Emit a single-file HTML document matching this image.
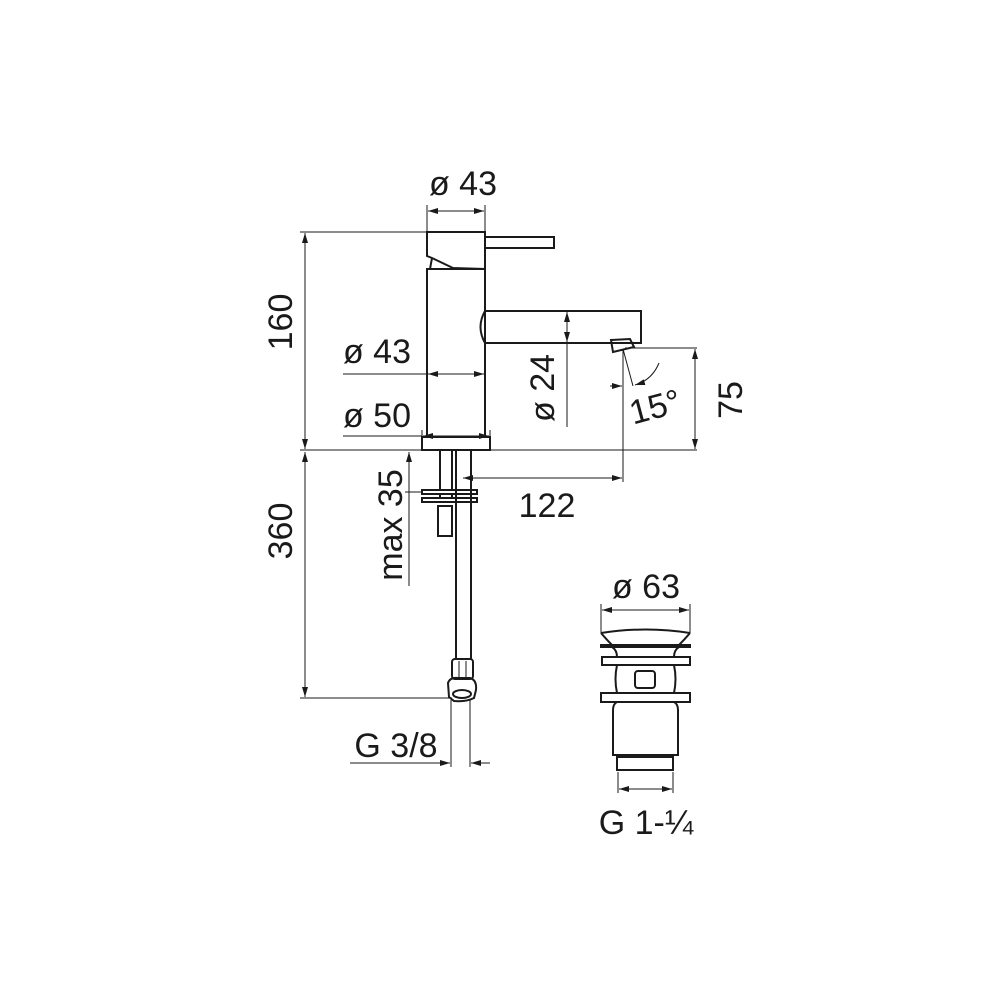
<!DOCTYPE html>
<html><head><meta charset="utf-8"><style>
html,body{margin:0;padding:0;background:#fff;}
svg{display:block;}
text{font-family:"Liberation Sans",sans-serif;fill:#1a1a1a;}
</style></head><body>
<svg width="1000" height="1000" viewBox="0 0 1000 1000" xmlns="http://www.w3.org/2000/svg">
<defs>
<marker id="a" viewBox="0 0 10 6" refX="10" refY="3" markerWidth="10" markerHeight="6" markerUnits="userSpaceOnUse" orient="auto-start-reverse">
<path d="M0,0 L10,3 L0,6 z" fill="#1a1a1a"/></marker>
</defs>
<g fill="none" stroke="#1a1a1a" stroke-width="1">
<line x1="427" y1="205" x2="427" y2="232"/><line x1="485" y1="205" x2="485" y2="232"/>
<line x1="428" y1="211" x2="484" y2="211" marker-start="url(#a)" marker-end="url(#a)"/>
<line x1="300" y1="232" x2="427" y2="232"/>
<line x1="305" y1="233" x2="305" y2="449" marker-start="url(#a)" marker-end="url(#a)"/>
<line x1="300" y1="450" x2="697" y2="450"/>
<line x1="305" y1="452" x2="305" y2="697" marker-start="url(#a)" marker-end="url(#a)"/>
<line x1="300" y1="698" x2="452" y2="698"/>
<g stroke-width="2">
<path d="M427,232 L485,232 L485,269 L453,268 L432,258 L427,256 Z"/>
<path d="M432,258 L430,269"/>
<rect x="485" y="237" width="69" height="11"/>
<path d="M485,269 L427,269 L427,437 L485,437 L485,269"/>
<rect x="422" y="437" width="68" height="13"/>
<path d="M485,311 L641,311 L641,343 L485,343"/>
<path d="M485,311 Q476,327 485,343"/>
<path d="M611,340 L630,339 L634,347 L613,352 Z"/>
<line x1="440" y1="451" x2="440" y2="490"/>
<line x1="452" y1="451" x2="452" y2="490"/>
<line x1="456" y1="451" x2="456" y2="660"/>
<line x1="471" y1="451" x2="471" y2="660"/>
<rect x="422" y="490" width="55" height="4"/>
<rect x="422" y="498" width="55" height="4"/>
<rect x="438" y="506" width="14" height="30"/>
<line x1="440" y1="494" x2="440" y2="498"/><line x1="452" y1="494" x2="452" y2="498"/>
<rect x="452" y="659" width="21" height="20" rx="3"/>
<path d="M448,683 Q450,677 458,678 L470,678 Q477,680 476,690 L474,698 Q466,702 454,701 L449,697 Z"/>
<ellipse cx="462" cy="694" rx="9" ry="4"/>
</g>
<line x1="459" y1="661" x2="459" y2="678"/><line x1="466" y1="661" x2="466" y2="678"/>
<line x1="409" y1="452" x2="409" y2="490" marker-start="url(#a)"/>
<line x1="409" y1="490" x2="409" y2="586"/>
<line x1="405" y1="492" x2="422" y2="492"/>
<line x1="343" y1="374" x2="427" y2="374"/>
<line x1="428" y1="374" x2="484" y2="374" marker-start="url(#a)" marker-end="url(#a)"/>
<line x1="343" y1="436" x2="422" y2="436"/>
<line x1="423" y1="436" x2="489" y2="436" marker-start="url(#a)" marker-end="url(#a)"/>
<line x1="422" y1="430" x2="422" y2="437"/><line x1="490" y1="430" x2="490" y2="437"/>
<line x1="567" y1="312" x2="567" y2="342" marker-start="url(#a)" marker-end="url(#a)"/>
<line x1="567" y1="342" x2="567" y2="427"/>
<line x1="625" y1="348" x2="697" y2="348"/>
<line x1="695" y1="349" x2="695" y2="449" marker-start="url(#a)" marker-end="url(#a)"/>
<line x1="623" y1="349" x2="623" y2="482"/>
<line x1="623" y1="349" x2="633" y2="386"/>
<path d="M659,363 Q652,380 635,385" marker-end="url(#a)"/>
<path d="M610,386 L622,386" marker-end="url(#a)"/>
<line x1="463" y1="478" x2="622" y2="478" marker-start="url(#a)" marker-end="url(#a)"/>
<line x1="451" y1="700" x2="451" y2="767"/><line x1="470" y1="700" x2="470" y2="767"/>
<line x1="350" y1="763" x2="450" y2="763" marker-end="url(#a)"/>
<line x1="490" y1="763" x2="471" y2="763" marker-end="url(#a)"/>
<line x1="601" y1="604" x2="601" y2="633"/><line x1="690" y1="604" x2="690" y2="633"/>
<line x1="602" y1="610" x2="689" y2="610" marker-start="url(#a)" marker-end="url(#a)"/>
<g stroke-width="2">
<path d="M601,633 Q646,626 690,633"/>
<path d="M601,633 Q607,640 612,645 M690,633 Q684,640 679,645"/>
<rect x="601" y="645" width="89" height="2"/>
<path d="M612,647 Q617,650 617,657 M679,647 Q674,650 674,657"/>
<rect x="602" y="657" width="88" height="8"/>
<path d="M617,665 Q614,679 617,693 M674,665 Q677,679 674,693"/>
<rect x="635" y="671" width="20" height="17" rx="3"/>
<rect x="601" y="693" width="89" height="9"/>
<path d="M617,702 Q613,704 613,710 L613,755 L678,755 L678,710 Q678,704 674,702"/>
<rect x="617" y="757" width="56" height="13"/>
</g>
<line x1="618" y1="772" x2="618" y2="793"/><line x1="673" y1="772" x2="673" y2="793"/>
<line x1="619" y1="789" x2="672" y2="789" marker-start="url(#a)" marker-end="url(#a)"/>
</g>
<g font-size="34">
<text x="463" y="195" text-anchor="middle">ø 43</text>
<text x="377" y="363" text-anchor="middle">ø 43</text>
<text x="377" y="427" text-anchor="middle">ø 50</text>
<text x="547" y="517" text-anchor="middle">122</text>
<text x="396" y="757" text-anchor="middle">G 3/8</text>
<text x="646" y="598" text-anchor="middle">ø 63</text>
<text x="646" y="834" text-anchor="middle">G 1-¼</text>
<text transform="translate(292,322) rotate(-90)" text-anchor="middle">160</text>
<text transform="translate(292,531) rotate(-90)" text-anchor="middle">360</text>
<text transform="translate(402,525) rotate(-90)" text-anchor="middle">max 35</text>
<text transform="translate(554,388) rotate(-90)" text-anchor="middle">ø 24</text>
<text transform="translate(742,400) rotate(-90)" text-anchor="middle">75</text>
<text transform="translate(658,418) rotate(-15)" text-anchor="middle">15°</text>
</g>
</svg>
</body></html>
